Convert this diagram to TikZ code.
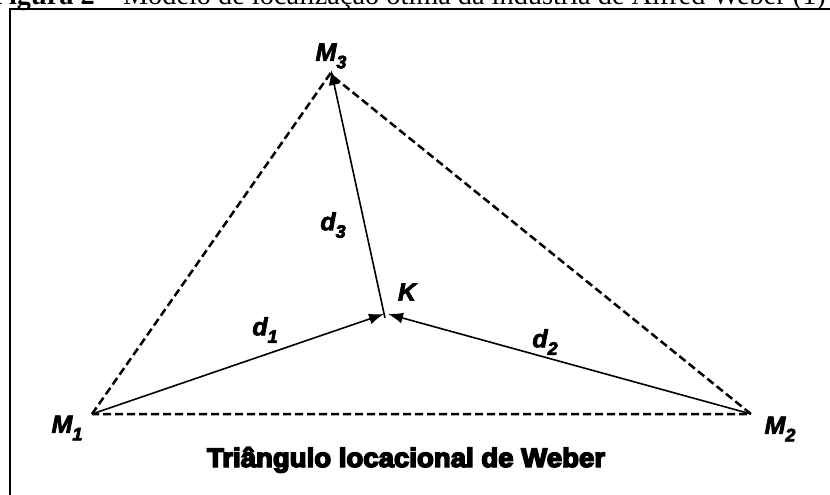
\documentclass[tikz,border=0pt]{standalone}
\usepackage{fontspec}
\setmainfont{Liberation Serif}
\newfontfamily\lblfont{Liberation Sans}
\usetikzlibrary{arrows.meta}
\newcommand{\heavy}[2]{\special{pdf:literal direct 2 Tr #1 w}#2\special{pdf:literal direct 0 Tr}}
\newcommand{\lbl}[2]{{\lblfont\bfseries\itshape \heavy{0.7}{#1\raisebox{-0.3em}{\fontsize{18}{18}\selectfont #2}}}}
\tikzset{
  framerule/.style={line width=2pt},
  dashedge/.style={line width=2.5pt, dash pattern=on 8pt off 4pt},
  vec/.style={line width=1.6pt, -{Latex[length=15pt,width=11pt]}},
  lab/.style={inner sep=0pt, font=\fontsize{25}{25}\selectfont}
}
\begin{document}
\begin{tikzpicture}[x=1pt,y=-1pt]
\useasboundingbox (0,0) rectangle (830,495);
\clip (0,0) rectangle (830,495);
\fill[white] (0,0) rectangle (830,495);
% caption (cut at top)
\node[anchor=base east, inner sep=0pt] (cap) at (826,5)
  {\resizebox{834pt}{!}{\textbf{Figura 2} – Modelo de localização ótima da indústria de Alfred Weber (1)}};
% frame
\draw[framerule] (9.5,500) -- (9.5,9.5) -- (835,9.5);
% vertices
\coordinate (m1) at (92,414);
\coordinate (m2) at (751,414);
\coordinate (m3) at (330,74);
\coordinate (k) at (386,314);
% triangle
\draw[dashedge] (m1) -- (m3) -- (m2) -- (m1);
% vectors
\draw[vec] (m1) -- ([xshift=-2pt]k);
\draw[vec] (m2) -- ([xshift=2pt]k);
\draw[vec] ([xshift=-1pt,yshift=-4pt]k) -- ([xshift=1pt,yshift=4pt]m3);
% labels
\node[lab] (lm3) at (331,56) {\lbl{M}{3}};
\node[lab] (lm1) at (67,428) {\lbl{M}{1}};
\node[lab] (lm2) at (780,429) {\lbl{M}{2}};
\node[lab] (lk) at (407,292) {\lblfont\bfseries\itshape \heavy{0.7}{K}};
\node[lab] (ld1) at (265,330) {\lbl{d}{1}};
\node[lab] (ld2) at (545,342) {\lbl{d}{2}};
\node[lab] (ld3) at (333,225) {\lbl{d}{3}};
% title
\node[anchor=base, inner sep=0pt] (title) at (406,467)
  {\resizebox{398pt}{20pt}{\lblfont\bfseries \heavy{0.55}{Triângulo locacional de Weber}}};
\end{tikzpicture}
\end{document}
